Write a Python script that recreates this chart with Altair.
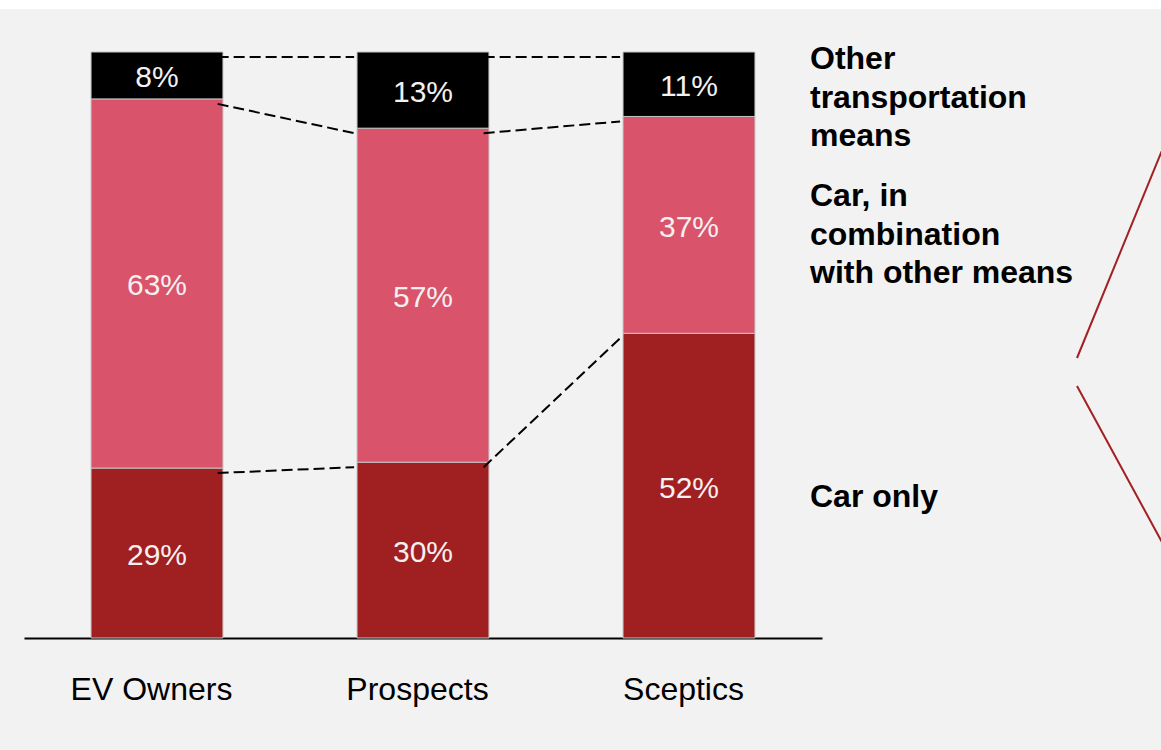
import json
import altair as alt
import pandas as pd

# ---- data ----
categories = ["EV Owners", "Prospects", "Sceptics"]
segments = ["Car only", "Car, in combination with other means", "Other transportation means"]
car_only = [29, 30, 52]
car_combo = [63, 57, 37]
other_means = [8, 13, 11]
legend_lines = [
    ["Other", "transportation", "means"],
    ["Car, in", "combination", "with other means"],
    ["Car only"],
]

seg_values = [car_only, car_combo, other_means]
seg_colors = ["#a01f21", "#d9536b", "#000000"]

# ---- tables built from the arrays ----
rows = []
cums = []
for i, cat in enumerate(categories):
    y0 = 0
    c = []
    for s, vals in zip(segments, seg_values):
        v = vals[i]
        rows.append({"pos": i, "category": cat, "segment": s, "value": v,
                     "y0": y0, "y1": y0 + v, "label": f"{v}%"})
        y0 += v
        c.append(y0)
    cums.append(c)
bars_df = pd.DataFrame(rows)

conn_rows = []
for i in range(len(categories) - 1):
    for k in range(len(segments)):
        conn_rows.append({"pos": i, "yfrom": cums[i][k], "yto": cums[i + 1][k]})
conn_df = pd.DataFrame(conn_rows)

HALF = 0.248
xscale = alt.Scale(domain=[-0.5, len(categories) - 0.5], nice=False, zero=False)
yscale = alt.Scale(domain=[0, 100], nice=False, zero=True)
label_expr = json.dumps(categories) + "[datum.value]"

base = alt.Chart(bars_df).transform_calculate(
    xa=f"datum.pos - {HALF}", xb=f"datum.pos + {HALF}", ym="(datum.y0 + datum.y1) / 2"
)

bars = base.mark_bar(stroke="#c4c4c4", strokeWidth=1).encode(
    x=alt.X("xa:Q", scale=xscale,
            axis=alt.Axis(values=list(range(len(categories))), labelExpr=label_expr,
                          title=None, grid=False, ticks=False, tickSize=0,
                          domainColor="#000000", domainWidth=2,
                          labelFont="Liberation Sans", labelFontSize=32,
                          labelColor="#000000", labelPadding=36, labelOffset=-6,
                          labelFlush=False, labelOverlap=False)),
    x2="xb:Q",
    y=alt.Y("y0:Q", scale=yscale, axis=None),
    y2="y1:Q",
    color=alt.Color("segment:N", scale=alt.Scale(domain=segments, range=seg_colors), legend=None),
)

labels = base.mark_text(font="Liberation Sans", fontSize=30, color="#f4f0f0",
                        baseline="middle", align="center", dy=3).encode(
    x=alt.X("pos:Q", scale=xscale),
    y=alt.Y("ym:Q", scale=yscale),
    text="label:N",
)

connectors = alt.Chart(conn_df).transform_calculate(
    xa=f"datum.pos + {HALF} - 0.02",
    xb=f"datum.pos + 1 - {HALF} - 0.011",
    ya="datum.yfrom - 0.85",
    yb="datum.yto - 0.85",
).mark_rule(color="#000000", strokeWidth=2, strokeDash=[11, 5]).encode(
    x=alt.X("xa:Q", scale=xscale),
    x2="xb:Q",
    y=alt.Y("ya:Q", scale=yscale),
    y2="yb:Q",
)

dummy = alt.Data(values=[{"d": 1}])

legend_tops = [17, 154, 455]
legend_layers = []
for lines, ytop in zip(legend_lines, legend_tops):
    legend_layers.append(
        alt.Chart(dummy).mark_text(font="Liberation Sans", fontSize=32, fontWeight="bold",
                                   color="#000000", align="left", baseline="alphabetic",
                                   lineHeight=38.5).encode(
            x=alt.value(786), y=alt.value(ytop), text=alt.value(lines)
        )
    )

red1 = alt.Chart(dummy).mark_rule(color="#a31f22", strokeWidth=2).encode(
    x=alt.value(1139), y=alt.value(96), x2=alt.value(1053), y2=alt.value(306))
red2 = alt.Chart(dummy).mark_rule(color="#a31f22", strokeWidth=2).encode(
    x=alt.value(1053), y=alt.value(334), x2=alt.value(1139), y2=alt.value(492))

top_strip = alt.Chart(dummy).mark_rect(color="#ffffff").encode(
    x=alt.value(-24), x2=alt.value(1137), y=alt.value(-52), y2=alt.value(-43))

chart = alt.layer(top_strip, bars, connectors, labels, *legend_layers, red1, red2).properties(
    width=798, height=586,
    autosize=alt.AutoSizeParams(type="none"),
    padding={"left": 24, "top": 52, "right": 339, "bottom": 112},
    background="#f2f2f2",
).configure_view(stroke=None)

chart.save("out.html", embed_options={"renderer": "svg", "actions": False})
